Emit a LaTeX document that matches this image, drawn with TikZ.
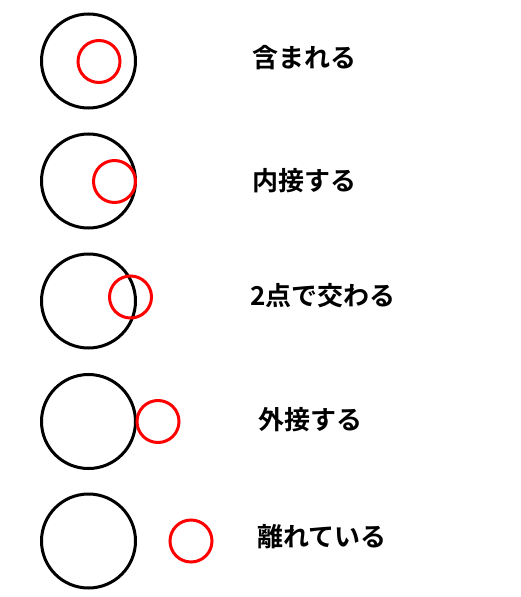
\documentclass[tikz,border=0pt]{standalone}
\usepackage{fontspec}
\usepackage{tikz}
\usetikzlibrary{positioning}
\newfontfamily\jpfont{Noto Sans CJK JP}[BoldFont={Noto Sans CJK JP Bold}]

\begin{document}
\begin{tikzpicture}[x=1pt,y=-1pt]
  \tikzset{bigc/.style={circle,draw=black,line width=3pt,minimum size=94pt,inner sep=0pt},
    smallc/.style={circle,draw=red,line width=3pt,minimum size=42pt,inner sep=0pt},
    lbl/.style={anchor=west,inner sep=0pt,font=\jpfont\bfseries\fontsize{26pt}{26pt}\selectfont}}%
  \useasboundingbox (0,0) rectangle (520,597);
  % contained
  \node[bigc] (b1) at (88.5,61) {};
  \node[smallc] (r1) at (99,61.5) {};
  \node[lbl] (t1) at (252,58) {含まれる};
  % internally tangent
  \node[bigc] (b2) at (88.5,181) {};
  \node[smallc] (r2) at (114.5,181.5) {};
  \node[lbl] (t2) at (252,181) {内接する};
  % two points
  \node[bigc] (b3) at (88.5,301) {};
  \node[smallc] (r3) at (130.5,297) {};
  \node[lbl] (t3) at (250,296) {2点で交わる};
  % externally tangent
  \node[bigc] (b4) at (88.5,421.5) {};
  \node[smallc] (r4) at (158,421.5) {};
  \node[lbl] (t4) at (258,420) {外接する};
  % apart
  \node[bigc] (b5) at (88.5,541) {};
  \node[smallc] (r5) at (191,541) {};
  \node[lbl] (t5) at (257,537) {離れている};
\end{tikzpicture}
\end{document}
